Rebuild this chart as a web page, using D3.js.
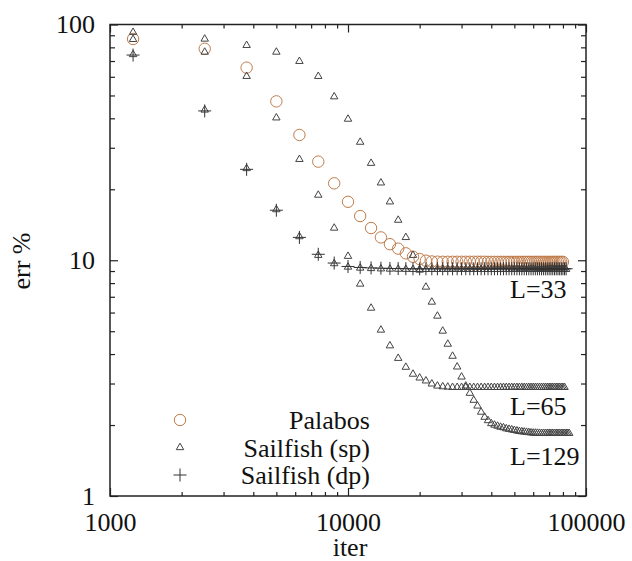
<!DOCTYPE html>
<html>
<head>
<meta charset="utf-8">
<script src="https://cdn.jsdelivr.net/npm/d3@7"></script>
<style>
  body { margin: 0; background: #fff; }
  svg text { font-family: "Liberation Serif", "Times New Roman", serif; fill: #111; }
</style>
</head>
<body>
<svg id="chart" width="632" height="561"></svg>
<script>
// iteration counts (x)
var iters = [
  1250, 2500, 3750, 5000, 6250, 7500, 8750, 10000, 11250, 12500,
  13750, 15000, 16250, 17500, 18750, 20000, 21250, 22500, 23750, 25000,
  26250, 27500, 28750, 30000, 31250, 32500, 33750, 35000, 36250, 37500,
  38750, 40000, 41250, 42500, 43750, 45000, 46250, 47500, 48750, 50000,
  51250, 52500, 53750, 55000, 56250, 57500, 58750, 60000, 61250, 62500,
  63750, 65000, 66250, 67500, 68750, 70000, 71250, 72500, 73750, 75000,
  76250, 77500, 78750, 80000, 81250, 82500, 83750, 85000
];

// Palabos, L=33
var palabos = [
  86.8, 78.9, 65.6, 47.2, 34.0, 26.2, 21.2, 17.7, 15.4, 13.7,
  12.5, 11.7, 11.2, 10.7, 10.35, 10.12, 9.96, 9.88, 9.86, 9.85,
  9.85, 9.85, 9.85, 9.85, 9.85, 9.85, 9.85, 9.85, 9.85, 9.85,
  9.84, 9.84, 9.84, 9.84, 9.84, 9.84, 9.84, 9.84, 9.84, 9.84,
  9.84, 9.84, 9.84, 9.84, 9.84, 9.84, 9.84, 9.84, 9.84, 9.84,
  9.84, 9.84, 9.84, 9.84, 9.84, 9.84, 9.84, 9.84, 9.84, 9.84,
  9.84, 9.84, 9.84, 9.84
];

// Sailfish single precision
var sp33 = [
  74.6, 43.4, 24.5, 16.4, 12.6, 10.5, 9.68, 9.36, 9.27, 9.23,
  9.2, 9.18, 9.17, 9.16, 9.15, 9.15, 9.15, 9.15, 9.15, 9.15,
  9.15, 9.15, 9.15, 9.15, 9.15, 9.15, 9.15, 9.15, 9.15, 9.15,
  9.15, 9.15, 9.15, 9.15, 9.15, 9.15, 9.15, 9.15, 9.15, 9.15,
  9.15, 9.15, 9.15, 9.15, 9.15, 9.15, 9.15, 9.15, 9.15, 9.15,
  9.15, 9.15, 9.15, 9.15, 9.15, 9.15, 9.15, 9.15, 9.15, 9.15,
  9.15, 9.15, 9.15, 9.15, 9.15, 9.15
];
var sp65 = [
  86.5, 76.4, 60.3, 40.2, 26.8, 18.9, 13.7, 10.4, 7.93, 6.27,
  5.06, 4.34, 3.84, 3.52, 3.29, 3.17, 3.08, 2.99, 2.93, 2.91,
  2.90, 2.89, 2.89, 2.89, 2.89, 2.89, 2.89, 2.89, 2.89, 2.89,
  2.89, 2.89, 2.89, 2.89, 2.89, 2.89, 2.89, 2.89, 2.89, 2.89,
  2.89, 2.89, 2.89, 2.89, 2.89, 2.89, 2.89, 2.89, 2.89, 2.89,
  2.89, 2.89, 2.89, 2.89, 2.89, 2.89, 2.89, 2.89, 2.89, 2.89,
  2.89, 2.89, 2.89, 2.89, 2.89
];
var sp129 = [
  92.7, 86.8, 81.6, 76.4, 69.8, 60.3, 49.4, 39.7, 31.7, 25.8,
  21.3, 17.7, 14.8, 12.5, 10.5, 9.09, 7.70, 6.65, 5.80, 5.01,
  4.41, 3.92, 3.53, 3.20, 2.93, 2.73, 2.55, 2.41, 2.27, 2.16,
  2.09, 2.03, 2.00, 1.98, 1.96, 1.95, 1.93, 1.92, 1.91, 1.90,
  1.89, 1.88, 1.875, 1.87, 1.865, 1.86, 1.855, 1.85, 1.85, 1.848,
  1.846, 1.845, 1.845, 1.845, 1.845, 1.845, 1.845, 1.845, 1.845, 1.845,
  1.845, 1.845, 1.845, 1.845, 1.845, 1.845, 1.845, 1.845
];

// Sailfish double precision
var dp33 = [
  74.2, 43.0, 24.3, 16.3, 12.5, 10.6, 9.73, 9.41, 9.32, 9.28,
  9.25, 9.23, 9.22, 9.21, 9.2, 9.2, 9.2, 9.2, 9.2, 9.2,
  9.2, 9.2, 9.2, 9.2, 9.2, 9.2, 9.2, 9.2, 9.2, 9.2,
  9.2, 9.2, 9.2, 9.2, 9.2, 9.2, 9.2, 9.2, 9.2, 9.2,
  9.2, 9.2, 9.2, 9.2, 9.2, 9.2, 9.2, 9.2, 9.2, 9.2,
  9.2, 9.2, 9.2, 9.2, 9.2, 9.2, 9.2, 9.2, 9.2, 9.2,
  9.2, 9.2, 9.2, 9.2, 9.2, 9.2
];

var xMajor = [1000, 10000, 100000];
var xMinor = [2000, 3000, 4000, 5000, 6000, 7000, 8000, 9000,
              20000, 30000, 40000, 50000, 60000, 70000, 80000, 90000];
var yMajor = [1, 10, 100];
var yMinor = [2, 3, 4, 5, 6, 7, 8, 9, 20, 30, 40, 50, 60, 70, 80, 90];

var legendNames = ["Palabos", "Sailfish (sp)", "Sailfish (dp)"];
var curveLabels = ["L=33", "L=65", "L=129"];
var curveLabelValues = [6.92, 2.21, 1.354]; // baseline of each label, in data units

(function() {
  var mLeft = 110, mRight = 586, mTop = 24.5, mBottom = 496;
  var brown = "#c07c4c", gray = "#444", dark = "#333";
  var serif = '"Liberation Serif", "Times New Roman", serif';

  var svg = d3.select("#chart");

  var x = d3.scaleLog().domain([1000, 100000]).range([mLeft, mRight]);
  var y = d3.scaleLog().domain([1, 100]).range([mBottom, mTop]);

  // axes: ticks pointing inward on all four sides
  function addAxis(axisFn, scale, values, size, pos, labels) {
    var g = svg.append("g").attr("transform", pos).attr("font-family", serif);
    var ax = axisFn(scale).tickValues(values).tickSize(-size);
    if (labels) ax.tickFormat(d3.format("d")).tickPadding(axisFn === d3.axisBottom ? 17 : 15);
    else ax.tickFormat("");
    g.call(ax);
    g.select(".domain").remove();
    g.selectAll(".tick line").attr("stroke", "#222").attr("stroke-width", 1.2);
    g.selectAll(".tick text").style("font-size", "26px").style("font-family", serif).attr("fill", "#111");
    return g;
  }

  addAxis(d3.axisBottom, x, xMajor, 8, "translate(0," + mBottom + ")", true);
  addAxis(d3.axisBottom, x, xMinor, 4, "translate(0," + mBottom + ")", false);
  addAxis(d3.axisTop, x, xMajor, 8, "translate(0," + mTop + ")", false);
  addAxis(d3.axisTop, x, xMinor, 4, "translate(0," + mTop + ")", false);
  addAxis(d3.axisLeft, y, yMajor, 8, "translate(" + mLeft + ",0)", true);
  addAxis(d3.axisLeft, y, yMinor, 5, "translate(" + mLeft + ",0)", false);
  addAxis(d3.axisRight, y, yMajor, 8, "translate(" + mRight + ",0)", false);
  addAxis(d3.axisRight, y, yMinor, 5, "translate(" + mRight + ",0)", false);

  svg.append("rect")
    .attr("x", mLeft).attr("y", mTop)
    .attr("width", mRight - mLeft).attr("height", mBottom - mTop)
    .attr("fill", "none").attr("stroke", "#222").attr("stroke-width", 1.5);

  // axis titles
  svg.append("text")
    .attr("x", (mLeft + mRight) / 2 + 2).attr("y", 556)
    .attr("text-anchor", "middle").style("font-size", "26px")
    .text("iter");

  svg.append("text")
    .attr("transform", "translate(30,261) rotate(-90)")
    .attr("text-anchor", "middle").style("font-size", "26px")
    .text("err %");

  // markers
  var triPath = d3.symbol().type(d3.symbolTriangle).size(24)();
  var plusPath = "M-6.5,0H6.5M0,-6.5V6.5";

  function pts(vals) {
    return vals.map(function(v, i) { return [iters[i], v]; });
  }

  var plot = svg.append("g");

  plot.selectAll(".pal").data(pts(palabos)).enter()
    .append("circle")
    .attr("class", "pal")
    .attr("cx", function(d) { return x(d[0]); })
    .attr("cy", function(d) { return y(d[1]); })
    .attr("r", 5.7)
    .attr("fill", "none").attr("stroke", brown).attr("stroke-width", 1);

  [sp129, sp65, sp33].forEach(function(series) {
    plot.append("g").selectAll("path").data(pts(series)).enter()
      .append("path")
      .attr("d", triPath)
      .attr("transform", function(d) { return "translate(" + x(d[0]) + "," + y(d[1]) + ")"; })
      .attr("fill", "none").attr("stroke", gray).attr("stroke-width", 1);
  });

  plot.append("g").selectAll("path").data(pts(dp33)).enter()
    .append("path")
    .attr("d", plusPath)
    .attr("transform", function(d) { return "translate(" + x(d[0]) + "," + y(d[1]) + ")"; })
    .attr("fill", "none").attr("stroke", dark).attr("stroke-width", 1);

  // curve labels
  svg.selectAll(".clab").data(curveLabels).enter()
    .append("text")
    .attr("class", "clab")
    .attr("x", 510)
    .attr("y", function(d, i) { return y(curveLabelValues[i]); })
    .style("font-size", "26px")
    .text(function(d) { return d; });

  // legend
  var leg = svg.append("g");
  var legY = [420, 447.5, 475];
  leg.append("circle").attr("cx", 180).attr("cy", legY[0]).attr("r", 5.7)
    .attr("fill", "none").attr("stroke", brown).attr("stroke-width", 1);
  leg.append("path").attr("d", triPath).attr("transform", "translate(180," + legY[1] + ")")
    .attr("fill", "none").attr("stroke", gray).attr("stroke-width", 1);
  leg.append("path").attr("d", plusPath).attr("transform", "translate(180," + legY[2] + ")")
    .attr("fill", "none").attr("stroke", dark).attr("stroke-width", 1);
  leg.selectAll("text").data(legendNames).enter()
    .append("text")
    .attr("x", 370)
    .attr("y", function(d, i) { return legY[i] + 9; })
    .attr("text-anchor", "end")
    .style("font-size", "26px")
    .text(function(d) { return d; });
})();
</script>
</body>
</html>
